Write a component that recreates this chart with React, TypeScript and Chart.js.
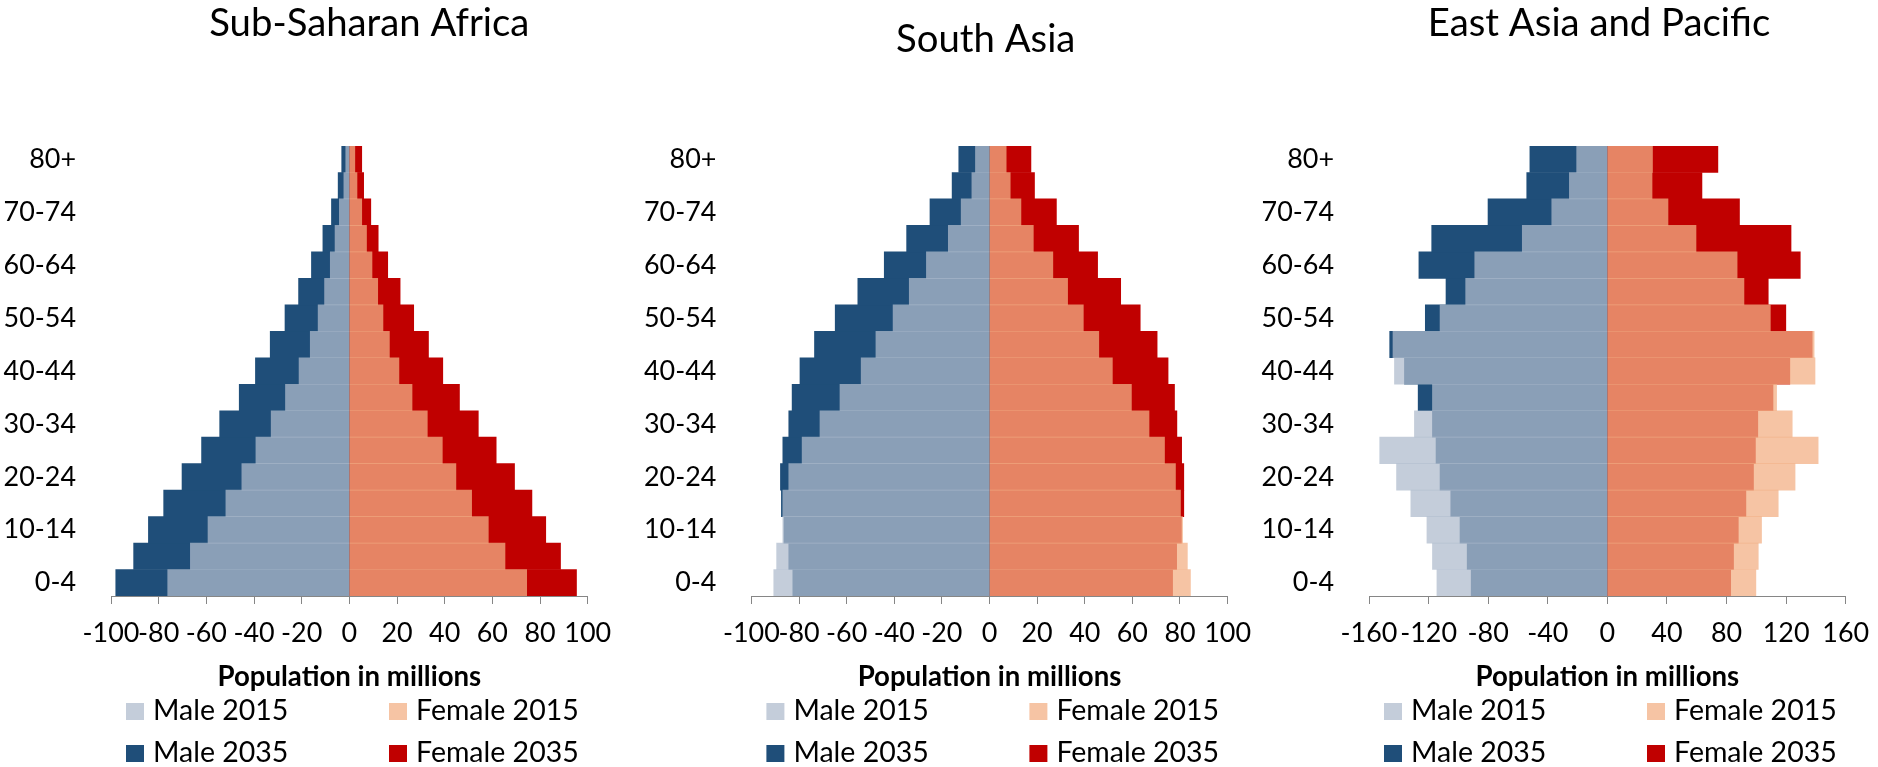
import React, { useEffect, useRef } from 'react';
import { Chart, registerables } from 'chart.js';

Chart.register(...registerables);

// ---------- DATA ----------
const AGE_GROUPS = ['0-4', '5-9', '10-14', '15-19', '20-24', '25-29', '30-34', '35-39', '40-44', '45-49', '50-54', '55-59', '60-64', '65-69', '70-74', '75-79', '80+'];
const SHOWN_AGE_LABELS = ['0-4', '10-14', '20-24', '30-34', '40-44', '50-54', '60-64', '70-74', '80+'];
const LEGEND_ORDER = ['Male 2015', 'Female 2015', 'Male 2035', 'Female 2035'];

const X_TICKS_100 = [-100, -80, -60, -40, -20, 0, 20, 40, 60, 80, 100];
const X_TICKS_160 = [-160, -120, -80, -40, 0, 40, 80, 120, 160];

// Sub-Saharan Africa (millions)
const SSA_MALE_2015 = [76.2, 66.7, 59.3, 51.8, 45.1, 39.2, 32.8, 26.8, 21.1, 16.4, 13.1, 10.4, 8.0, 6.0, 4.2, 2.3, 1.5];
const SSA_MALE_2035 = [98.0, 90.5, 84.3, 77.9, 70.2, 62.0, 54.4, 46.2, 39.4, 33.2, 27.0, 21.3, 15.9, 11.1, 7.5, 4.7, 3.2];
const SSA_FEMALE_2015 = [74.4, 65.3, 58.3, 51.3, 44.7, 39.0, 32.7, 26.3, 20.8, 16.8, 14.1, 11.9, 9.5, 7.2, 5.2, 3.2, 2.3];
const SSA_FEMALE_2035 = [95.3, 88.6, 82.4, 76.6, 69.3, 61.6, 54.1, 46.2, 39.2, 33.2, 27.0, 21.3, 16.1, 12.1, 9.0, 6.0, 5.2];

// South Asia (millions)
const SA_MALE_2015 = [90.6, 89.4, 86.8, 86.8, 84.3, 78.7, 71.2, 62.8, 53.9, 47.7, 40.5, 33.7, 26.5, 17.3, 11.9, 7.4, 5.9];
const SA_MALE_2035 = [82.6, 84.3, 86.3, 87.4, 87.8, 86.8, 84.3, 82.9, 79.6, 73.5, 64.8, 55.3, 44.2, 34.8, 25.0, 15.7, 12.9];
const SA_FEMALE_2015 = [84.4, 83.1, 81.1, 80.2, 78.1, 73.5, 67.0, 59.6, 51.6, 45.9, 39.4, 32.8, 26.6, 18.4, 13.2, 8.7, 7.0];
const SA_FEMALE_2035 = [76.9, 78.6, 80.6, 81.6, 81.6, 80.7, 78.7, 77.7, 75.0, 70.4, 63.3, 55.1, 45.4, 37.4, 28.1, 18.9, 17.4];

// East Asia and Pacific (millions)
const EAP_MALE_2015 = [114.4, 117.4, 121.1, 131.9, 141.5, 152.8, 129.5, 117.4, 142.9, 143.9, 112.3, 95.1, 89.0, 57.1, 37.3, 25.5, 20.6];
const EAP_MALE_2035 = [91.4, 94.1, 98.9, 105.1, 112.3, 115.0, 117.4, 127.0, 136.2, 146.1, 122.2, 108.3, 126.5, 117.9, 80.1, 54.1, 52.0];
const EAP_FEMALE_2015 = [99.7, 101.3, 103.5, 114.7, 126.0, 141.5, 124.1, 113.6, 139.4, 138.8, 109.4, 91.7, 87.1, 59.5, 40.7, 30.0, 30.3];
const EAP_FEMALE_2035 = [82.8, 84.7, 87.9, 93.0, 98.1, 99.4, 101.0, 111.2, 122.5, 137.5, 119.8, 108.0, 129.5, 123.3, 88.7, 63.5, 74.2];

// ---------- STYLE ----------
const FONT = 'Lato';
const MALE_2015_COLOR = 'rgba(175, 187, 205, 0.74)';
const MALE_2035_COLOR = '#1F4E79';
const FEMALE_2015_COLOR = 'rgba(243, 176, 134, 0.75)';
const FEMALE_2035_COLOR = '#C00000';
const AXIS_GRAY = '#868686';
const PAGE_H = 767;
const PLOT_TOP = 146;
const PLOT_BOTTOM = 596;

// font size that makes a text reach a given pixel width (matches the reference's text widths)
function fitSize(text: string, target: number, weight = 'normal') {
  const c = document.createElement('canvas').getContext('2d');
  if (!c) return 26;
  c.font = `${weight} 100px ${FONT}`;
  const w = c.measureText(text).width || 1;
  return Math.round(((100 * target) / w) * 10) / 10;
}

type Geom = { left: number; width: number; axisWidth: number; titleX: number; titleY: number };

function Pyramid(props: {
  title: string;
  male2015: number[];
  male2035: number[];
  female2015: number[];
  female2035: number[];
  xTicks: number[];
  geom: Geom;
  plotRight: number;
}) {
  const ref = useRef<HTMLCanvasElement>(null);
  const g = props.geom;
  useEffect(() => {
    const canvas = ref.current;
    if (!canvas) return;
    const xt = props.xTicks;

    const tickSize = fitSize('-100', 56.7);
    const legendSize = fitSize('Female 2015', 163);
    const axisTitleSize = fitSize('Population in millions', 264, 'bold');
    const titleSize = fitSize('East Asia and Pacific', 342);

    const tickPad = 633.5 - (PLOT_BOTTOM + 8) - tickSize * 0.6;
    const xAxisHeight = 677 - PLOT_BOTTOM + axisTitleSize * 0.6;

    const titleAndLegend = {
      id: 'titleAndLegend',
      afterDraw(chart: any) {
        const { ctx, chartArea } = chart;
        ctx.save();
        // chart title
        ctx.font = `normal ${titleSize}px ${FONT}`;
        ctx.textAlign = 'center';
        ctx.textBaseline = 'middle';
        ctx.fillStyle = '#000';
        ctx.fillText(props.title, g.titleX, g.titleY);
        // legend, two columns
        const colX = [15, 278];
        const rowY = [107, 149];
        ctx.font = `normal ${legendSize}px ${FONT}`;
        ctx.textBaseline = 'alphabetic';
        ctx.textAlign = 'left';
        LEGEND_ORDER.forEach((label, i) => {
          const ds = chart.data.datasets.find((d: any) => d.label === label);
          if (!ds) return;
          const x = chartArea.left + colX[i % 2];
          const y = chartArea.bottom + rowY[Math.floor(i / 2)];
          ctx.fillStyle = ds.backgroundColor;
          ctx.fillRect(x, y, 18, 17);
          ctx.fillStyle = '#000';
          ctx.fillText(label, x + 27, y + 16.6);
        });
        ctx.restore();
      },
    };

    const common = { grouped: false, barPercentage: 1, categoryPercentage: 1, borderWidth: 0 };
    const chart = new Chart(canvas, {
      type: 'bar',
      data: {
        labels: AGE_GROUPS,
        datasets: [
          { ...common, label: 'Male 2015', data: props.male2015.map((v) => -v), backgroundColor: MALE_2015_COLOR, order: 0 },
          { ...common, label: 'Female 2015', data: props.female2015, backgroundColor: FEMALE_2015_COLOR, order: 0 },
          { ...common, label: 'Male 2035', data: props.male2035.map((v) => -v), backgroundColor: MALE_2035_COLOR, order: 1 },
          { ...common, label: 'Female 2035', data: props.female2035, backgroundColor: FEMALE_2035_COLOR, order: 1 },
        ] as any,
      },
      options: {
        indexAxis: 'y',
        responsive: false,
        animation: false,
        events: [],
        layout: {
          padding: {
            left: 0,
            top: PLOT_TOP,
            right: g.left + g.width - props.plotRight,
            bottom: PAGE_H - PLOT_BOTTOM - xAxisHeight,
          },
        },
        plugins: {
          legend: { display: false },
          tooltip: { enabled: false },
          title: { display: false },
        },
        scales: {
          x: {
            type: 'linear',
            position: 'bottom',
            min: xt[0],
            max: xt[xt.length - 1],
            z: 1,
            afterBuildTicks: (s: any) => {
              s.ticks = xt.map((v) => ({ value: v }));
            },
            afterFit: (s: any) => {
              s.height = xAxisHeight;
            },
            grid: { display: true, drawOnChartArea: false, drawTicks: true, tickLength: 8, color: AXIS_GRAY, lineWidth: 1 },
            border: { display: true, color: AXIS_GRAY, width: 1 },
            ticks: {
              autoSkip: false,
              maxRotation: 0,
              padding: tickPad,
              color: '#000',
              font: { family: FONT, size: tickSize },
              callback: (v: any) => String(v),
            },
            title: {
              display: true,
              text: 'Population in millions',
              color: '#000',
              font: { family: FONT, size: axisTitleSize, weight: 'bold' as any },
              padding: { top: 0, bottom: 0 },
            },
          },
          y: {
            type: 'category',
            position: 'left',
            reverse: true,
            offset: true,
            afterFit: (s: any) => {
              s.width = g.axisWidth;
            },
            grid: { display: false },
            border: { display: false },
            ticks: {
              autoSkip: false,
              padding: 27,
              color: '#000',
              font: { family: FONT, size: tickSize },
              callback: (v: any) => {
                const lab = AGE_GROUPS[v as number];
                return SHOWN_AGE_LABELS.includes(lab) ? lab : '';
              },
            },
          },
          y2: {
            type: 'category',
            axis: 'y',
            position: { x: 0 } as any,
            reverse: true,
            offset: true,
            z: 1,
            grid: { display: true, offset: true, drawOnChartArea: false, drawTicks: true, tickLength: 7, color: '#A6A6A6', lineWidth: 1 },
            border: { display: true, color: AXIS_GRAY, width: 1 },
            ticks: { display: false },
          },
        } as any,
      },
      plugins: [titleAndLegend],
    });
    return () => chart.destroy();
  }, []);
  return (
    <canvas
      ref={ref}
      width={g.width}
      height={PAGE_H}
      style={{ position: 'absolute', left: g.left, top: 0, width: g.width, height: PAGE_H }}
    />
  );
}

export default function App() {
  return (
    <div style={{ position: 'absolute', left: 0, top: 0, width: 1878, height: PAGE_H, overflow: 'hidden', background: '#fff' }}>
      <Pyramid
        title="Sub-Saharan Africa"
        male2015={SSA_MALE_2015}
        male2035={SSA_MALE_2035}
        female2015={SSA_FEMALE_2015}
        female2035={SSA_FEMALE_2035}
        xTicks={X_TICKS_100}
        geom={{ left: 0, width: 640, axisWidth: 111, titleX: 369.3, titleY: 23.8 }}
        plotRight={587.7}
      />
      <Pyramid
        title="South Asia"
        male2015={SA_MALE_2015}
        male2035={SA_MALE_2035}
        female2015={SA_FEMALE_2015}
        female2035={SA_FEMALE_2035}
        xTicks={X_TICKS_100}
        geom={{ left: 640, width: 640, axisWidth: 111.4, titleX: 345.7, titleY: 39.8 }}
        plotRight={1227.6}
      />
      <Pyramid
        title="East Asia and Pacific"
        male2015={EAP_MALE_2015}
        male2035={EAP_MALE_2035}
        female2015={EAP_FEMALE_2015}
        female2035={EAP_FEMALE_2035}
        xTicks={X_TICKS_160}
        geom={{ left: 1260, width: 640, axisWidth: 109, titleX: 339, titleY: 23.8 }}
        plotRight={1845.7}
      />
    </div>
  );
}
